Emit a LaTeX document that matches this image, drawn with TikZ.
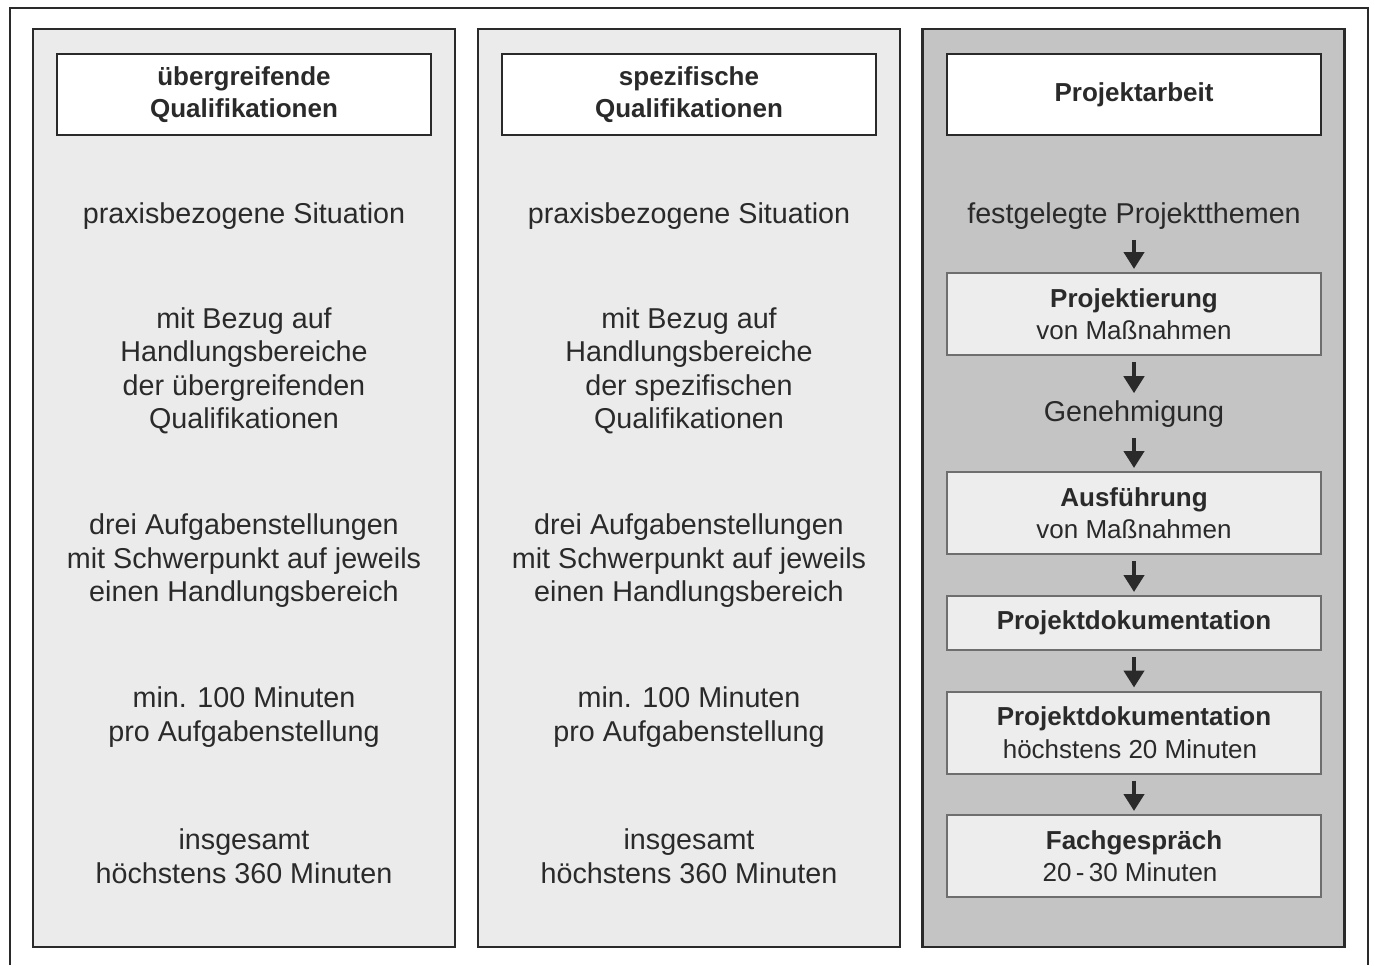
\documentclass[tikz,border=0pt]{standalone}
\usepackage{fontspec}
\setmainfont{Liberation Sans}
\usetikzlibrary{arrows.meta}
\definecolor{panelgray}{HTML}{EBEBEB}
\definecolor{paneldark}{HTML}{C4C4C4}
\definecolor{stepgray}{HTML}{EDEDED}
\definecolor{linegray}{HTML}{6E6E6E}
\definecolor{inkgray}{HTML}{2A2A2A}
\newcommand{\bigtext}{\fontsize{14.35}{16.75}\selectfont}
\newcommand{\boxtext}{\fontsize{13}{16.3}\selectfont}

\begin{document}
\begin{tikzpicture}[x=0.5pt,y=-0.5pt,
    column/.style={draw=inkgray,line width=1.3pt,fill=panelgray,minimum width=211pt,minimum height=459pt,inner sep=0pt},
    header/.style={draw=inkgray,line width=1pt,fill=white,minimum width=187pt,minimum height=40.5pt,align=center,font=\boxtext\bfseries,text=inkgray},
    stepbox/.style={draw=linegray,line width=1pt,fill=stepgray,minimum width=187pt,minimum height=41pt,align=center,font=\boxtext,text=inkgray},
    info/.style={align=center,font=\bigtext,text=inkgray,inner sep=2pt},
    flow/.style={-{Triangle[width=10pt,length=8.5pt]},line width=2.4pt,draw=inkgray,shorten >=1.5pt,shorten <=3pt}]
  \useasboundingbox (0,0) rectangle (1375,965);
  \fill[white] (0,0) rectangle (1375,965);
  \draw[inkgray,line width=1pt] (10,965) -- (10,8) -- (1368,8) -- (1368,965);

  \node[column] (colA) at (244,488) {};
  \node[column] (colB) at (689,488) {};
  \node[column,fill=paneldark] (colC) at (1133.5,488) {};

  \node[header] (headA) at (244,94.5) {übergreifende\\Qualifikationen};
  \node[header] (headB) at (689,94.5) {spezifische\\Qualifikationen};
  \node[header] (headC) at (1134,94.5) {Projektarbeit};

  \node[info] (sitA) at (244,216) {praxisbezogene Situation};
  \node[info] (bezA) at (244,371) {mit Bezug auf\\Handlungsbereiche\\der übergreifenden\\Qualifikationen};
  \node[info] (aufA) at (244,561) {drei Aufgabenstellungen\\mit Schwerpunkt auf jeweils\\einen Handlungsbereich};
  \node[info] (minA) at (244,717) {min. 100 Minuten\\pro Aufgabenstellung};
  \node[info] (sumA) at (244,856) {insgesamt\\höchstens 360 Minuten};

  \node[info] (sitB) at (689,216) {praxisbezogene Situation};
  \node[info] (bezB) at (689,371) {mit Bezug auf\\Handlungsbereiche\\der spezifischen\\Qualifikationen};
  \node[info] (aufB) at (689,561) {drei Aufgabenstellungen\\mit Schwerpunkt auf jeweils\\einen Handlungsbereich};
  \node[info] (minB) at (689,717) {min. 100 Minuten\\pro Aufgabenstellung};
  \node[info] (sumB) at (689,856) {insgesamt\\höchstens 360 Minuten};

  \node[info] (themen) at (1134,216) {festgelegte Projektthemen};
  \node[stepbox] (planung) at (1134,314) {\textbf{Projektierung}\\von Maßnahmen};
  \node[info] (genehm) at (1134,414) {Genehmigung};
  \node[stepbox] (ausf) at (1134,513) {\textbf{Ausführung}\\von Maßnahmen};
  \node[stepbox,minimum height=27pt] (doku) at (1134,623) {\textbf{Projektdokumentation}};
  \node[stepbox] (praes) at (1134,732.5) {\textbf{Projektdokumentation}\\höchstens 20 Minuten\hspace*{4pt}};
  \node[stepbox] (fach) at (1134,856) {\textbf{Fachgespräch}\\20\,-\,30 Minuten\hspace*{4pt}};

  \draw[flow] (themen) -- (planung);
  \draw[flow] (planung) -- (genehm);
  \draw[flow] (genehm) -- (ausf);
  \draw[flow] (ausf) -- (doku);
  \draw[flow] (doku) -- (praes);
  \draw[flow] (praes) -- (fach);
\end{tikzpicture}
\end{document}
